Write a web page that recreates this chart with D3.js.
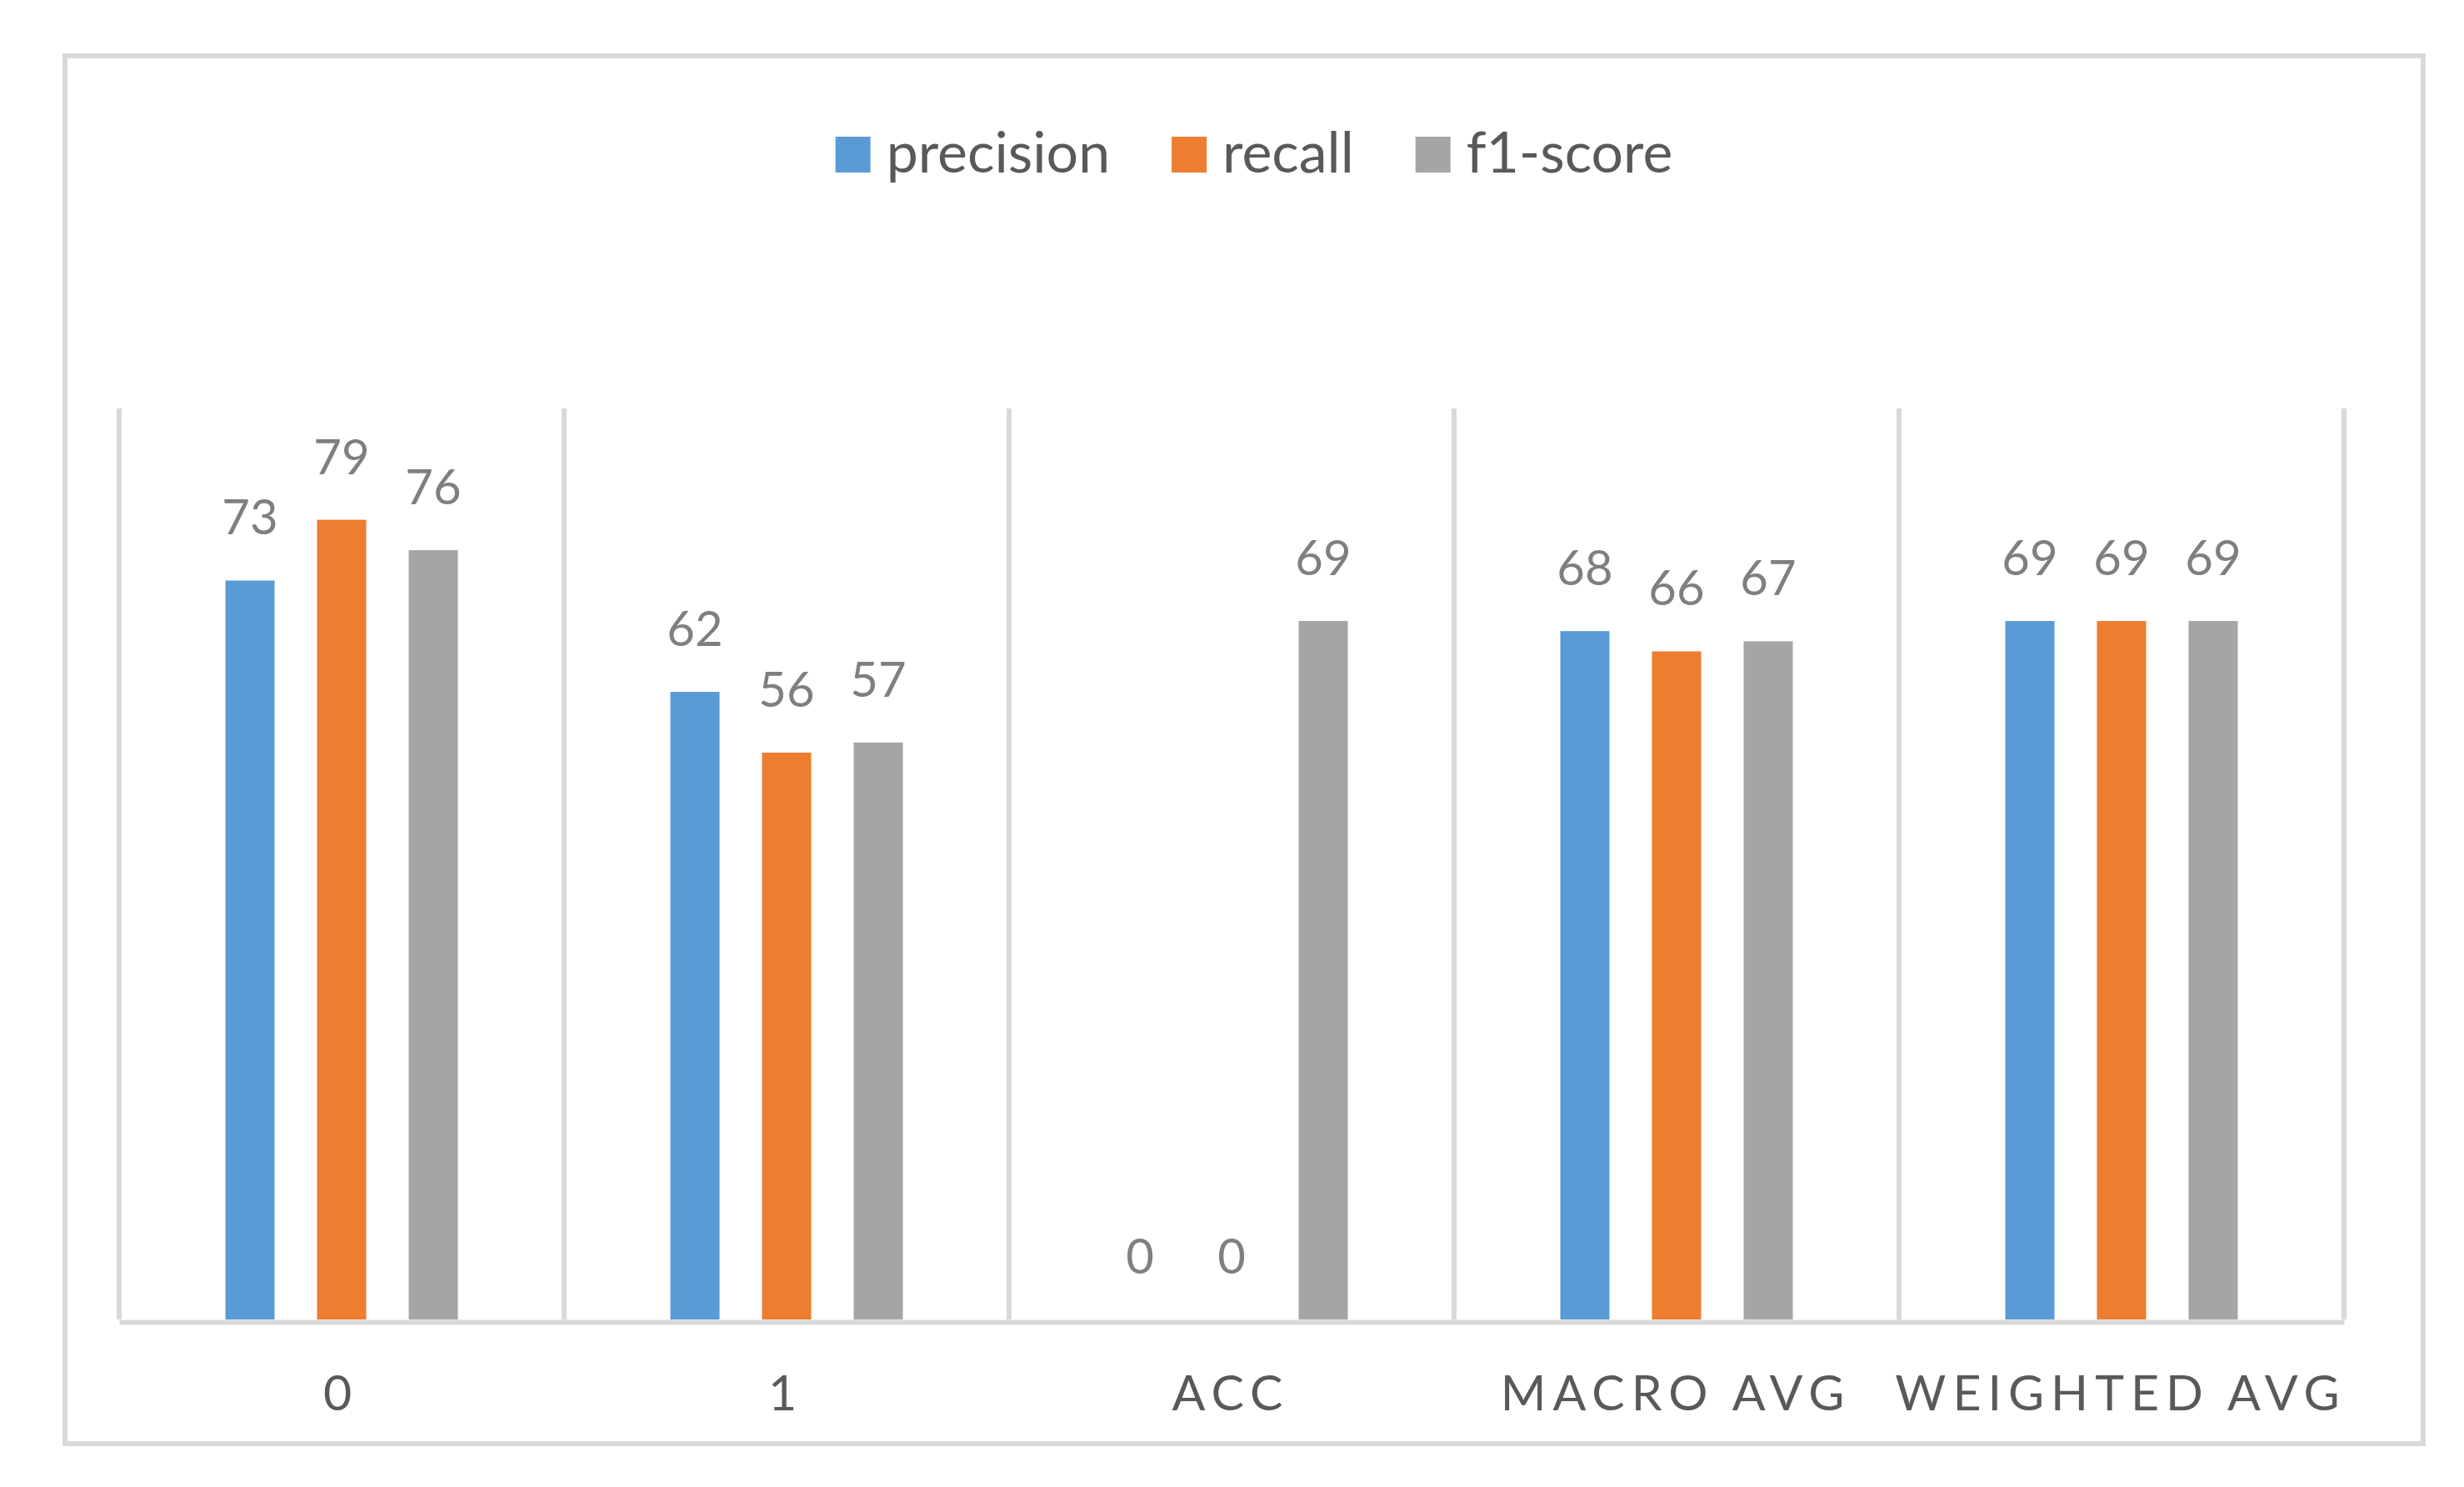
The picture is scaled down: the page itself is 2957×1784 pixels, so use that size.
<!DOCTYPE html>
<html>
<head>
<meta charset="utf-8">
<script src="https://cdn.jsdelivr.net/npm/d3@7"></script>
<style>
  body { margin: 0; background: #fff; }
  text { font-family: Lato, "Open Sans", sans-serif; }
</style>
</head>
<body>
<svg id="chart" width="2957" height="1784"></svg>
<script>
var categories = ["0", "1", "ACC", "MACRO AVG", "WEIGHTED AVG"];
var seriesNames = ["precision", "recall", "f1-score"];
var precision = [73, 62, 0, 68, 69];
var recall = [79, 56, 0, 66, 69];
var f1score = [76, 57, 69, 67, 69];
var colors = ["#5b9bd5", "#ed7d31", "#a5a5a5"];

var seriesValues = [precision, recall, f1score];

var svg = d3.select("#chart");

// outer frame
svg.append("rect")
    .attr("x", 78)
    .attr("y", 67)
    .attr("width", 2830)
    .attr("height", 1665)
    .style("fill", "#fff")
    .style("stroke", "#d9d9d9")
    .style("stroke-width", 6);

var x0 = d3.scaleBand().domain(categories).range([143, 2813]).padding(0);
var x1 = d3.scaleBand().domain(seriesNames).range([-165, 165])
    .paddingInner(0.4636).paddingOuter(0.2318);
var y = d3.scaleLinear().domain([0, 90]).range([1583, 490]);

// category separators
var bounds = categories.map(function(c) { return x0(c); });
bounds.push(x0.range()[1]);
svg.selectAll("line.sep")
    .data(bounds)
    .enter()
    .append("line")
    .attr("class", "sep")
    .attr("x1", function(d) { return d; })
    .attr("x2", function(d) { return d; })
    .attr("y1", y(90))
    .attr("y2", y(0))
    .style("stroke", "#d9d9d9")
    .style("stroke-width", 6);

// bars
var groups = svg.selectAll("g.cat")
    .data(categories)
    .enter()
    .append("g")
    .attr("class", "cat")
    .attr("transform", function(d) {
        return "translate(" + (x0(d) + x0.bandwidth() / 2) + ",0)";
    });

function rows(c, ci) {
    return seriesNames.map(function(s, si) {
        return { s: s, si: si, v: seriesValues[si][ci] };
    });
}

groups.selectAll("rect")
    .data(rows)
    .enter()
    .append("rect")
    .attr("x", function(d) { return x1(d.s); })
    .attr("y", function(d) { return y(d.v); })
    .attr("width", x1.bandwidth())
    .attr("height", function(d) { return y(0) - y(d.v); })
    .style("fill", function(d) { return colors[d.si]; });

groups.selectAll("text.val")
    .data(rows)
    .enter()
    .append("text")
    .attr("class", "val")
    .attr("x", function(d) { return x1(d.s) + x1.bandwidth() / 2; })
    .attr("y", function(d) { return y(d.v) - 55; })
    .style("text-anchor", "middle")
    .style("font-size", "58px")
    .style("fill", "#7f7f7f")
    .text(function(d) { return d.v; });

// x axis
var xAxis = svg.append("g")
    .attr("transform", "translate(0," + (y(0) + 3) + ")")
    .call(d3.axisBottom(x0).tickSize(0).tickPadding(0));
xAxis.select(".domain")
    .style("stroke", "#d9d9d9")
    .style("stroke-width", 6);
xAxis.selectAll(".tick text")
    .attr("y", 106)
    .attr("dy", 0)
    .attr("dx", -1)
    .style("font-family", "Lato, 'Open Sans', sans-serif")
    .style("font-size", "59px")
    .style("letter-spacing", "8px")
    .style("fill", "#595959");

// legend
var legend = svg.append("g");
var cursor = 0;
seriesNames.forEach(function(s, i) {
    var item = legend.append("g").attr("transform", "translate(" + cursor + ",0)");
    item.append("rect")
        .attr("x", 0)
        .attr("y", 164)
        .attr("width", 42)
        .attr("height", 43)
        .style("fill", colors[i]);
    var t = item.append("text")
        .attr("x", 61)
        .attr("y", 207)
        .style("font-size", "68px")
        .style("fill", "#595959")
        .text(s);
    cursor += 61 + t.node().getComputedTextLength() + 74;
});
var legendWidth = cursor - 74;
legend.attr("transform", "translate(" + (1505 - legendWidth / 2) + ",0)");
</script>
</body>
</html>
